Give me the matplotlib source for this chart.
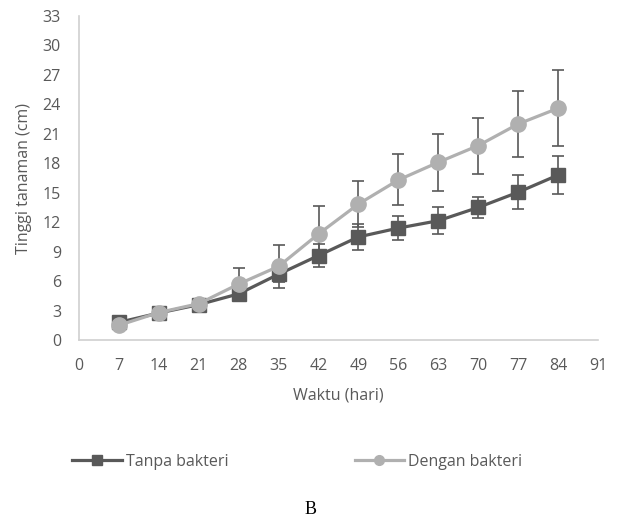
import numpy as np
import matplotlib
matplotlib.use("Agg")
import matplotlib.pyplot as plt
from matplotlib.lines import Line2D

# data
hari = [7, 14, 21, 28, 35, 42, 49, 56, 63, 70, 77, 84]
tanpa = [1.8, 2.75, 3.6, 4.7, 6.7, 8.6, 10.5, 11.4, 12.15, 13.5, 15.05, 16.8]
tanpa_err = [0.2, 0.2, 0.3, 0.5, 0.8, 1.2, 1.3, 1.2, 1.4, 1.1, 1.75, 1.9]
dengan = [1.5, 2.8, 3.7, 5.7, 7.5, 10.8, 13.85, 16.3, 18.1, 19.8, 22.0, 23.6]
dengan_err = [0.2, 0.3, 0.4, 1.6, 2.2, 2.85, 2.3, 2.6, 2.9, 2.85, 3.4, 3.85]

x_ticks = np.arange(0, 92, 7)
y_ticks = np.arange(0, 34, 3)

dark = '#595959'
light = '#b0b0b0'
txt = '#595959'
fs = 11.5

plt.rcParams['font.family'] = ['Open Sans', 'DejaVu Sans']

fig = plt.figure(figsize=(6.22, 5.18), dpi=100)
ax = fig.add_axes([79/622, 1 - 340/518, (598 - 79)/622, (340 - 16)/518])

ax.errorbar(hari, tanpa, yerr=tanpa_err, color=dark, lw=2.3, marker='s', ms=9.5,
            ecolor=dark, elinewidth=1.2, capsize=4, capthick=1.2, zorder=3)
ax.errorbar(hari, dengan, yerr=dengan_err, color=light, lw=2.3, marker='o', ms=11,
            ecolor=dark, elinewidth=1.2, capsize=4, capthick=1.2, zorder=4)

ax.set_xlim(0, 91)
ax.set_ylim(0, 33)
ax.set_xticks(x_ticks)
ax.set_yticks(y_ticks)
ax.tick_params(axis='x', length=0, labelsize=fs, colors=txt, pad=13)
ax.tick_params(axis='y', length=0, labelsize=fs, colors=txt, pad=13)
for s in ['top', 'right']:
    ax.spines[s].set_visible(False)
for s in ['left', 'bottom']:
    ax.spines[s].set_color('#d0d0d0')
    ax.spines[s].set_linewidth(1.2)

ax.set_xlabel('Waktu (hari)', fontsize=fs, color=txt, labelpad=10)
ax.set_ylabel('Tinggi tanaman (cm)', fontsize=fs, color=txt, labelpad=8)

h1 = Line2D([], [], color=dark, lw=2.3, marker='s', ms=7, label='Tanpa bakteri')
h2 = Line2D([], [], color=light, lw=2.3, marker='o', ms=7, label='Dengan bakteri')
fig.legend(handles=[h1, h2], loc='center', bbox_to_anchor=(0.478, 1 - 462/518),
           ncol=2, frameon=False, fontsize=fs, handlelength=3.1, handletextpad=0.25,
           columnspacing=7.9, labelcolor=txt)

fig.text(311/622, 1 - 510/518, 'B', family='Liberation Serif', fontsize=13,
         ha='center', va='center', color='black')

fig.savefig('out.png', dpi=100)
